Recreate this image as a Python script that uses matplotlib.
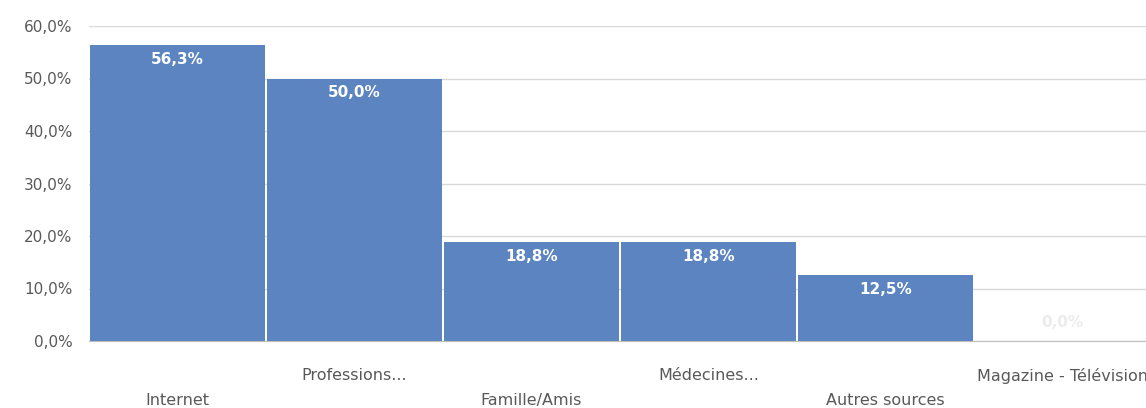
import matplotlib
matplotlib.use('Agg')
import matplotlib.pyplot as plt
from matplotlib.transforms import blended_transform_factory

categories = ['Internet', 'Professions...', 'Famille/Amis', 'Médecines...',
              'Autres sources', 'Magazine - Télévision']
values = [56.3, 50.0, 18.8, 18.8, 12.5, 0.0]
yticks = [0, 10, 20, 30, 40, 50, 60]

plt.rcParams['font.family'] = ['DejaVu Sans']

fig = plt.figure(figsize=(11.46, 4.08), dpi=100)
fig.patch.set_facecolor('white')
ax = fig.add_axes([89/1146, 67/408, 1062/1146, 315/408])

x = list(range(len(categories)))
bars = ax.bar(x, values, width=0.985, color='#5b84c0', edgecolor='none', zorder=3)

ax.set_xlim(-0.5, len(categories) - 0.5)
ax.set_ylim(0, 60)
ax.set_yticks(yticks)
ax.set_yticklabels([f'{v:.1f}%'.replace('.', ',') for v in yticks],
                   fontsize=11, color='#595959')
ax.yaxis.grid(True, color='#d9d9d9', lw=1, zorder=0)
ax.tick_params(axis='y', length=0, pad=12)
ax.set_xticks([])
for s in ['top', 'right', 'left']:
    ax.spines[s].set_visible(False)
ax.spines['bottom'].set_color('#bfbfbf')

# data labels inside the top of each bar
for xi, v in zip(x, values):
    lbl = f'{v:.1f}%'.replace('.', ',')
    if v > 0:
        ax.annotate(lbl, (xi, v), xytext=(0, -5), textcoords='offset points',
                    ha='center', va='top', fontsize=11, fontweight='bold',
                    color='white', zorder=4)
    else:
        ax.annotate(lbl, (xi, v), xytext=(0, 8), textcoords='offset points',
                    ha='center', va='bottom', fontsize=11, fontweight='bold',
                    color='#ececec', zorder=4)

# staggered category labels
tr = blended_transform_factory(ax.transData, ax.transAxes)
for xi, c in zip(x, categories):
    yy = -0.19 if xi % 2 == 0 else -0.11
    ax.text(xi, yy, c, transform=tr, ha='center', va='center',
            fontsize=11.5, color='#595959', clip_on=False)

plt.savefig('out.png', dpi=100, facecolor='white')
plt.close()
